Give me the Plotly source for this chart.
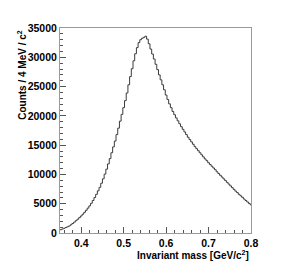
import plotly.graph_objects as go

# Histogram: 4 MeV bins starting at 0.350 GeV/c^2
bin_start = 0.350
bin_width = 0.004
counts = [
    560, 680, 800, 930, 1060, 1190, 1400, 1620, 1850, 2100,
    2350, 2620, 2900, 3200, 3530, 3880, 4250, 4630, 5080, 5550,
    6050, 6600, 7200, 7800, 8500, 9250, 10050, 10900, 11800, 12700,
    13700, 14700, 15700, 16800, 17900, 19100, 20250, 21400, 22600, 23900,
    25300, 26700, 28050, 29400, 30600, 31650, 32500, 33000, 33250, 33400,
    33600, 33100, 32300, 31400, 30550, 29700, 28800, 27900, 27000, 26150,
    25300, 24450, 23550, 22800, 22050, 21400, 20750, 20200, 19650, 19150,
    18650, 18150, 17700, 17250, 16800, 16350, 15950, 15550, 15150, 14750,
    14400, 14050, 13700, 13350, 13000, 12650, 12350, 12000, 11700, 11400,
    11100, 10800, 10450, 10150, 9850, 9550, 9250, 8950, 8650, 8350,
    8050, 7750, 7450, 7150, 6900, 6600, 6350, 6100, 5800, 5550,
    5300, 5050, 4800,
]
x_ticks = [0.4, 0.5, 0.6, 0.7, 0.8]
x_tick_labels = ["0.4", "0.5", "0.6", "0.7", "0.8"]
y_ticks = [0, 5000, 10000, 15000, 20000, 25000, 30000, 35000]
y_tick_labels = ["0", "5000", "10000", "15000", "20000", "25000", "30000", "35000"]
x_title = "Invariant mass [GeV/c<sup>2</sup>]"
y_title = "Counts / 4 MeV / c<sup>2</sup>"

edges = [bin_start + i * bin_width for i in range(len(counts) + 1)]
xs = edges
ys = counts + [counts[-1]]

font_family = "Liberation Sans, Arial, sans-serif"
label_font = dict(family=font_family, size=10.5, color="#000", weight="bold")
title_font = dict(family=font_family, size=10, color="#000", weight="bold")

fig = go.Figure()
fig.add_trace(go.Scatter(
    x=xs, y=ys, mode="lines", line=dict(shape="hv", color="#3a3a3a", width=1),
    hoverinfo="skip", showlegend=False,
))

axis_common = dict(
    showgrid=False, zeroline=False, showline=True, mirror=True,
    linecolor="#9a9a9a", linewidth=1,
    ticks="inside", tickcolor="#555", tickwidth=1, ticklen=6,
    tickfont=label_font,
)

fig.update_xaxes(
    range=[0.35, 0.8], tickvals=x_ticks, ticktext=x_tick_labels,
    minor=dict(ticks="inside", ticklen=3, dtick=0.02, tick0=0.0, tickcolor="#555", showgrid=False),
    **axis_common,
)
fig.update_yaxes(
    range=[0, 35000], tickvals=y_ticks, ticktext=y_tick_labels,
    minor=dict(ticks="inside", ticklen=3, dtick=1000, tick0=0, tickcolor="#555", showgrid=False),
    **axis_common,
)

fig.add_annotation(
    text=x_title, xref="paper", yref="paper", x=1.0, y=-0.07,
    xanchor="right", yanchor="top", showarrow=False, font=title_font,
)
fig.add_annotation(
    text=y_title, xref="paper", yref="paper", x=-0.2, y=1.0,
    xanchor="center", yanchor="top", textangle=-90, showarrow=False,
    font=title_font,
)

fig.update_layout(
    width=278, height=270,
    margin=dict(l=52, r=35, t=20, b=45),
    paper_bgcolor="white", plot_bgcolor="white",
)

fig.write_html("out.html")
